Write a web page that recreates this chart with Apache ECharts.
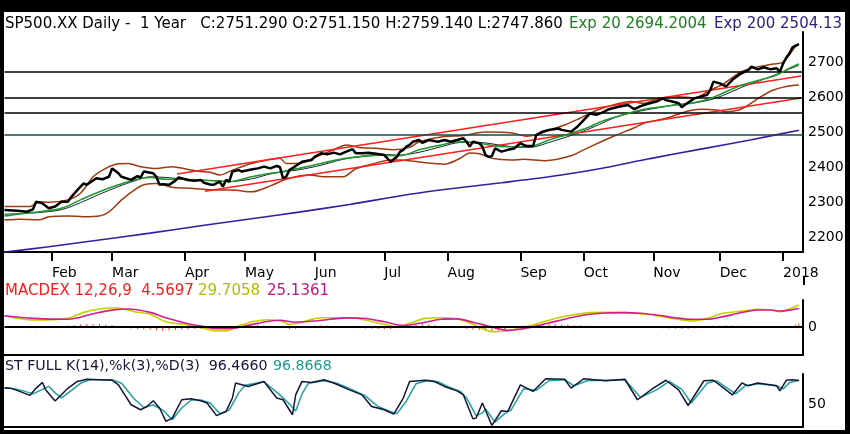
<!DOCTYPE html>
<html><head><meta charset="utf-8">
<script src="https://cdn.jsdelivr.net/npm/echarts@6.0.0/dist/echarts.min.js"></script>
<style>
html,body{margin:0;padding:0;background:#000;width:850px;height:434px;overflow:hidden;}
#paper{position:absolute;left:4px;top:12px;width:841px;height:418px;background:#fff;}
#c{position:absolute;left:0;top:0;width:850px;height:434px;}
</style>
</head><body><div id="paper"></div><div id="c"></div>
<script>
// x positions are trading-day indexes: 0 = 2017-01-10 ... 251 = 2018-01-09
const monthTickDays = [15,34,57,76,98,120,140,163,183,205,226,246];
const monthLabels = ['Feb','Mar','Apr','May','Jun','Jul','Aug','Sep','Oct','Nov','Dec','2018'];
const priceTicks = [2200,2300,2400,2500,2600,2700];
const macdTicks = [0];
const stochTicks = [50];
const levelLines = [2672,2599,2556];
const levelTeal = [2492];

const closePts = [[0,2277],[4,2275],[7,2272],[9,2279],[10,2301],[12,2296],[14,2282],[16,2287],[18,2301],[20,2301],[21,2313],[23,2334],[25,2353],[26,2349],[29,2368],[31,2365],[33,2372],[34,2396],[36,2382],[37,2372],[40,2363],[42,2374],[43,2370],[44,2387],[47,2382],[48,2372],[49,2349],[50,2351],[52,2349],[54,2361],[55,2370],[58,2363],[60,2361],[62,2363],[63,2355],[65,2350],[66,2349],[68,2358],[69,2344],[70,2363],[71,2358],[72,2387],[74,2391],[75,2387],[78,2393],[80,2396],[82,2401],[84,2396],[86,2403],[87,2400],[88,2368],[89,2372],[90,2391],[92,2403],[94,2415],[97,2420],[98,2429],[100,2439],[102,2436],[104,2441],[106,2436],[108,2444],[110,2451],[111,2439],[113,2439],[115,2441],[118,2437],[120,2434],[122,2415],[124,2429],[125,2444],[126,2449],[127,2458],[128,2463],[129,2472],[131,2477],[132,2469],[134,2477],[137,2472],[139,2477],[141,2472],[143,2477],[145,2482],[146,2472],[147,2458],[148,2472],[150,2468],[151,2458],[152,2434],[153,2429],[154,2431],[155,2453],[157,2444],[159,2449],[161,2453],[163,2468],[164,2463],[165,2460],[167,2460],[168,2491],[170,2501],[172,2506],[175,2510],[176,2506],[179,2501],[181,2515],[183,2534],[185,2553],[187,2549],[189,2556],[191,2565],[194,2572],[197,2577],[199,2565],[201,2574],[203,2580],[206,2587],[208,2596],[209,2591],[211,2587],[213,2582],[214,2571],[216,2584],[218,2596],[220,2601],[222,2606],[223,2620],[224,2644],[226,2639],[228,2630],[230,2649],[232,2663],[233,2668],[235,2677],[236,2687],[238,2679],[240,2685],[242,2679],[244,2682],[245,2672],[246,2695],[247,2712],[248,2724],[249,2742],[250,2747],[251,2751]];

const ema20Pts = [[0,2260],[5,2266],[11,2272],[18,2282],[24,2306],[30,2329],[36,2349],[41,2363],[46,2370],[51,2365],[56,2365],[62,2363],[68,2360],[71,2358],[78,2372],[84,2382],[88,2387],[93,2396],[100,2410],[106,2422],[112,2429],[119,2434],[125,2432],[131,2449],[138,2463],[144,2472],[150,2468],[157,2458],[163,2458],[167,2460],[172,2477],[179,2496],[185,2515],[188,2528],[194,2545],[201,2563],[207,2571],[212,2577],[217,2582],[223,2596],[228,2615],[233,2634],[239,2649],[244,2663],[248,2682],[251,2694]];

const bbMidPts = [[0,2265],[5,2267],[11,2270],[18,2278],[24,2298],[30,2322],[36,2344],[41,2360],[46,2372],[51,2370],[56,2366],[62,2362],[68,2360],[71,2358],[78,2366],[84,2380],[88,2386],[93,2392],[100,2405],[106,2420],[112,2430],[119,2436],[125,2434],[131,2442],[138,2458],[144,2470],[150,2470],[157,2462],[163,2456],[167,2457],[172,2470],[179,2490],[185,2510],[188,2522],[194,2545],[201,2560],[207,2570],[212,2578],[217,2582],[223,2592],[228,2608],[233,2628],[239,2648],[244,2665],[248,2680],[251,2690]];

const bbUpperPts = [[0,2287],[8,2287],[11,2301],[14,2299],[20,2306],[24,2325],[28,2372],[32,2396],[36,2409],[39,2410],[43,2401],[48,2396],[53,2401],[58,2393],[62,2387],[65,2385],[68,2377],[72,2391],[78,2410],[83,2420],[87,2425],[89,2410],[93,2410],[99,2431],[104,2449],[108,2463],[112,2456],[118,2453],[123,2449],[128,2456],[131,2472],[138,2486],[145,2490],[152,2500],[160,2498],[165,2488],[168,2492],[172,2505],[177,2520],[182,2540],[188,2565],[198,2587],[202,2582],[207,2596],[213,2601],[218,2598],[223,2620],[227,2636],[232,2668],[236,2682],[243,2694],[246,2700],[250,2745],[251,2750]];

const bbLowerPts = [[0,2249],[5,2251],[11,2249],[14,2258],[20,2260],[25,2258],[30,2260],[33,2272],[37,2306],[41,2334],[44,2349],[48,2353],[53,2342],[59,2339],[62,2337],[68,2334],[72,2334],[78,2329],[84,2346],[89,2365],[96,2377],[102,2372],[107,2372],[111,2395],[116,2408],[122,2420],[125,2420],[133,2412],[139,2408],[144,2425],[147,2440],[150,2438],[154,2425],[160,2420],[164,2422],[171,2418],[179,2432],[183,2449],[188,2470],[193,2490],[199,2512],[202,2525],[209,2539],[216,2560],[220,2565],[225,2563],[228,2558],[232,2563],[235,2577],[239,2601],[243,2620],[247,2630],[251,2634]];

const ema200Pts = [[0,2157],[14,2172],[27,2188],[46,2211],[62,2232],[78,2252],[93,2271],[109,2293],[128,2322],[141,2338],[157,2355],[172,2372],[188,2395],[204,2424],[220,2451],[236,2478],[251,2505]];

const trendUpperPts = [[54.5,2380],[251.7,2660]];
const trendLowerPts = [[63.3,2331],[251.7,2597]];

const macdPts = [[0,15.3],[9,9.5],[20,11.7],[25,19.8],[30,24.3],[35,26.1],[41,20.7],[46,17.1],[51,7.2],[58,2.7],[63,-1.8],[67,-5.4],[71,-4.5],[73,0],[76,4],[78,7],[83,9.9],[88,7.2],[90,3.5],[93,5],[96,9],[100,12.6],[109,12.6],[114,9.5],[120,3.6],[124,0.4],[128,5],[133,11.7],[138,12.6],[143,10.8],[148,3.6],[151,-2],[154,-6.3],[159,-5.4],[163,-1],[167,2.7],[171,8],[175,12.6],[180,16.5],[185,19.4],[190,20],[196,19.4],[201,18],[206,15.3],[212,11],[217,8.1],[222,11.7],[227,18.5],[233,21.5],[238,23.9],[242,23],[245,20.7],[248,24.5],[251,29.7]];

const signalPts = [[0,15.3],[9,11.7],[20,10.5],[29,19],[35,23.5],[39,24.3],[46,19.8],[51,12.5],[58,4.5],[63,0.5],[67,-2.3],[72,-2],[78,3.2],[83,7.5],[87,9.2],[92,6.5],[99,8.5],[108,12.3],[114,11.5],[120,7],[126,2],[133,6.5],[138,10.5],[143,11],[148,6.5],[154,0],[159,-4.5],[163,-3],[167,0.4],[175,8.6],[180,13.5],[185,17.2],[190,19],[196,19.4],[201,18.5],[206,16.2],[212,12.5],[217,10.4],[222,10.4],[227,14],[233,19.5],[238,23],[242,23],[245,21.6],[248,22.8],[251,25.1]];

const histPts = [[0,0.5],[2,-0.3],[4,-0.6],[6,-1],[8,-1.6],[10,-1.8],[12,-1],[14,0],[16,0.8],[18,1.5],[20,2],[22,2.8],[24,3.5],[26,4],[28,4.2],[30,4],[32,3.4],[34,2.6],[36,1],[38,-0.8],[40,-2],[42,-3],[44,-3.4],[46,-3.8],[48,-4.5],[50,-5],[52,-4.8],[54,-4],[56,-3.4],[58,-3],[60,-2.5],[62,-2.2],[64,-2],[66,-2.5],[68,-2.3],[70,-1.5],[72,1],[74,2.4],[76,3.2],[78,3.5],[80,3],[82,2.4],[84,1.5],[86,0.6],[88,-1.2],[90,-3],[92,-2.4],[94,-0.8],[96,1],[98,2.2],[100,2.5],[102,2],[104,1.4],[106,0.8],[108,0.5],[110,-0.4],[112,-1.4],[114,-2],[116,-2.4],[118,-2.8],[120,-3],[122,-2.6],[124,-1.5],[126,0.5],[128,2.2],[130,3.4],[132,4],[134,3.4],[136,2.3],[138,1.5],[140,0.8],[142,0.3],[144,-1],[146,-2.2],[148,-3.2],[150,-4],[152,-5.4],[154,-6],[156,-5],[158,-3],[160,-1.2],[162,1],[164,2],[166,3],[168,3.5],[170,3.8],[172,4],[174,4],[176,3.4],[178,3],[180,2.5],[182,2.2],[184,1.8],[186,1.5],[188,1.2],[190,1],[192,0.5],[194,0.3],[196,0],[198,-0.5],[200,-0.8],[202,-1],[204,-1],[206,-1.4],[208,-1.8],[210,-2],[212,-2.4],[214,-2.6],[216,-2.5],[218,-1.6],[220,-0.4],[222,1],[224,1.8],[226,2.2],[228,2.5],[230,2.2],[232,1.8],[234,1.5],[236,1.2],[238,1],[240,0.5],[242,0],[244,-0.6],[246,-1],[248,1.2],[250,3.5],[251,4.6]];

const stochKPts = [[0,81.5],[2,81],[4,77],[8,67],[10,81.5],[12,92.7],[13,78],[16,56],[20,81],[23,94.7],[26,99],[30,98],[34,97],[36,88],[40,48.5],[43,38.6],[45,45],[47,56.4],[49,42],[51,15.5],[53,22],[56,58.4],[59,60.4],[62,56.4],[64,52],[67,27],[70,35],[72,61.8],[73,91.5],[77,84.8],[82,94.7],[86,61.8],[88,58.4],[91,28.7],[92,68],[94,94.7],[97,92.7],[101,98],[104,91.5],[109,78],[113,68],[116,45],[120,38.6],[123,30],[126,61.8],[128,94.7],[133,97],[136,94],[139,84.8],[143,76],[145,68],[148,20.8],[149,22],[151,52],[154,7.5],[157,36.6],[159,35],[163,88],[167,74.9],[171,100],[177,99],[179,81.5],[183,100],[190,96],[196,99],[200,58.4],[205,81.5],[209,97],[213,78],[216,47],[221,96],[224,97],[230,68],[233,91.5],[235,86],[238,91.5],[244,86],[245,76],[247,97],[249,98],[251,96.5]];

const stochDPts = [[0,82],[3,80],[6,76],[9,70],[11,76],[14,85],[16,72],[18,62],[21,76],[24,91],[27,98],[34,98],[37,91],[41,60],[44,43],[47,48],[50,38],[53,19],[56,42],[59,58],[62,58],[65,52],[68,31],[71,38],[74,72],[76,87],[82,94],[87,68],[90,50],[92,36],[94,70],[96,91],[101,96],[105,91],[110,78],[114,66],[118,45],[121,37],[124,31],[127,56],[130,90],[134,97],[137,94],[140,85],[144,75],[146,62],[149,27],[151,32],[152,40],[155,14],[158,31],[160,38],[164,80],[168,77],[172,96],[177,98],[180,86],[184,96],[190,97],[196,98],[201,63],[206,78],[210,95],[214,79],[217,52],[222,91],[225,96],[231,70],[234,86],[238,90],[244,86],[246,80],[248,92],[251,96.9]];

const FONT = '"DejaVu Sans", "Noto Sans", sans-serif';
const X_MAX = 252.3;
const chart = echarts.init(document.getElementById('c'), null, {renderer:'canvas'});

function xAx(gi, main) {
  return {
    gridIndex: gi, type: 'value', min: 0, max: X_MAX,
    axisLine: {show: true, onZero: false, lineStyle: {color: '#000', width: 2}},
    axisTick: {show: main, customValues: monthTickDays, length: 9, lineStyle: {color: '#000', width: 2}},
    axisLabel: {show: main, customValues: monthTickDays,
      formatter: v => monthLabels[monthTickDays.indexOf(v)] || '',
      align: 'left', margin: 14, fontSize: 14, fontFamily: FONT, color: '#000'},
    splitLine: {show: false}
  };
}
function yAx(gi, min, max, ticks) {
  return {
    gridIndex: gi, type: 'value', position: 'right', min: min, max: max,
    axisLine: {show: true, onZero: false, lineStyle: {color: '#000', width: 2}},
    axisTick: {show: false},
    axisLabel: {customValues: ticks, formatter: v => String(Math.round(v)), margin: 5,
      fontSize: 14, fontFamily: FONT, color: '#000'},
    splitLine: {show: false}
  };
}
function txt(x, y, s, color, size) {
  return {type: 'text', x: x, y: y, silent: true,
    style: {text: s, fill: color, font: (size || 15) + 'px ' + FONT, textVerticalAlign: 'middle', verticalAlign: 'middle'}};
}
function line(name, data, color, width, z, xi, smooth) {
  return {name: name, type: 'line', xAxisIndex: xi, yAxisIndex: xi, data: data,
    showSymbol: false, symbol: 'none', smooth: smooth, z: z,
    lineStyle: {color: color, width: width}, silent: true};
}

const levelData = levelLines.map(v => ({yAxis: v, lineStyle: {color: '#000'}}))
  .concat(levelTeal.map(v => ({yAxis: v, lineStyle: {color: '#1d4646'}})));

const ema200 = line('Exp 200', ema200Pts, '#3b1c9e', 1.6, 2, 0, 0.3);
ema200.markLine = {silent: true, symbol: ['none','none'], label: {show: false},
  lineStyle: {width: 1.5, type: 'solid'}, data: levelData};

const hist = {name: 'hist', type: 'bar', xAxisIndex: 1, yAxisIndex: 1, data: histPts,
  barWidth: 1, itemStyle: {color: '#ff3b1f'}, z: 1, silent: true,
  markLine: {silent: true, symbol: ['none','none'], label: {show: false},
    lineStyle: {color: '#000', width: 2, type: 'solid'}, data: [{yAxis: 0}]}};

chart.setOption({
  animation: false,
  grid: [
    {left: 4.5, right: 47, top: 32, height: 220},
    {left: 4.5, right: 47, top: 300, height: 55},
    {left: 4.5, right: 47, top: 374, height: 53}
  ],
  xAxis: [xAx(0, true), xAx(1, false), xAx(2, false)],
  yAxis: [yAx(0, 2157.1, 2785.7, priceTicks), yAx(1, -37.8, 36.5, macdTicks), yAx(2, 4.45, 109.4, stochTicks)],
  series: [
    ema200,
    line('BB upper', bbUpperPts, '#9b3b14', 1.5, 3, 0, 0.3),
    line('BB lower', bbLowerPts, '#9b3b14', 1.5, 3, 0, 0.3),
    line('BB mid', bbMidPts, '#1c1c3c', 1, 3, 0, 0.3),
    line('Trend upper', trendUpperPts, '#ff1f1f', 1.5, 4, 0, false),
    line('Trend lower', trendLowerPts, '#ff1f1f', 1.5, 4, 0, false),
    line('Exp 20', ema20Pts, '#1e9a2c', 1.6, 5, 0, 0.3),
    line('Close', closePts, '#000', 2.5, 6, 0, false),
    hist,
    line('MACD', macdPts, '#c5d000', 1.6, 3, 1, 0.3),
    line('Signal', signalPts, '#d21e8c', 1.6, 4, 1, 0.3),
    line('%K', stochKPts, '#14143a', 1.5, 4, 2, false),
    line('%D', stochDPts, '#1fa39a', 1.5, 3, 2, false)
  ],
  graphic: {elements: [
    txt(5, 24, 'SP500.XX Daily -  1 Year   C:2751.290 O:2751.150 H:2759.140 L:2747.860', '#000'),
    txt(569, 24, 'Exp 20 2694.2004', '#1d7d22'),
    txt(714, 24, 'Exp 200 2504.13', '#2e1c84'),
    txt(5, 291, 'MACDEX 12,26,9  4.5697', '#ff1a1a'),
    txt(198, 291, '29.7058', '#b3bd00'),
    txt(267, 291, '25.1361', '#c2167a'),
    txt(5, 366, 'ST FULL K(14),%k(3),%D(3)  96.4660', '#14143a', 14.2),
    txt(273, 366, '96.8668', '#1c9a8e', 14.2),
    {type: 'line', silent: true, shape: {x1: 804, y1: 277, x2: 804, y2: 285}, style: {stroke: '#000', lineWidth: 2}}
  ]}
});
</script>
</body></html>
